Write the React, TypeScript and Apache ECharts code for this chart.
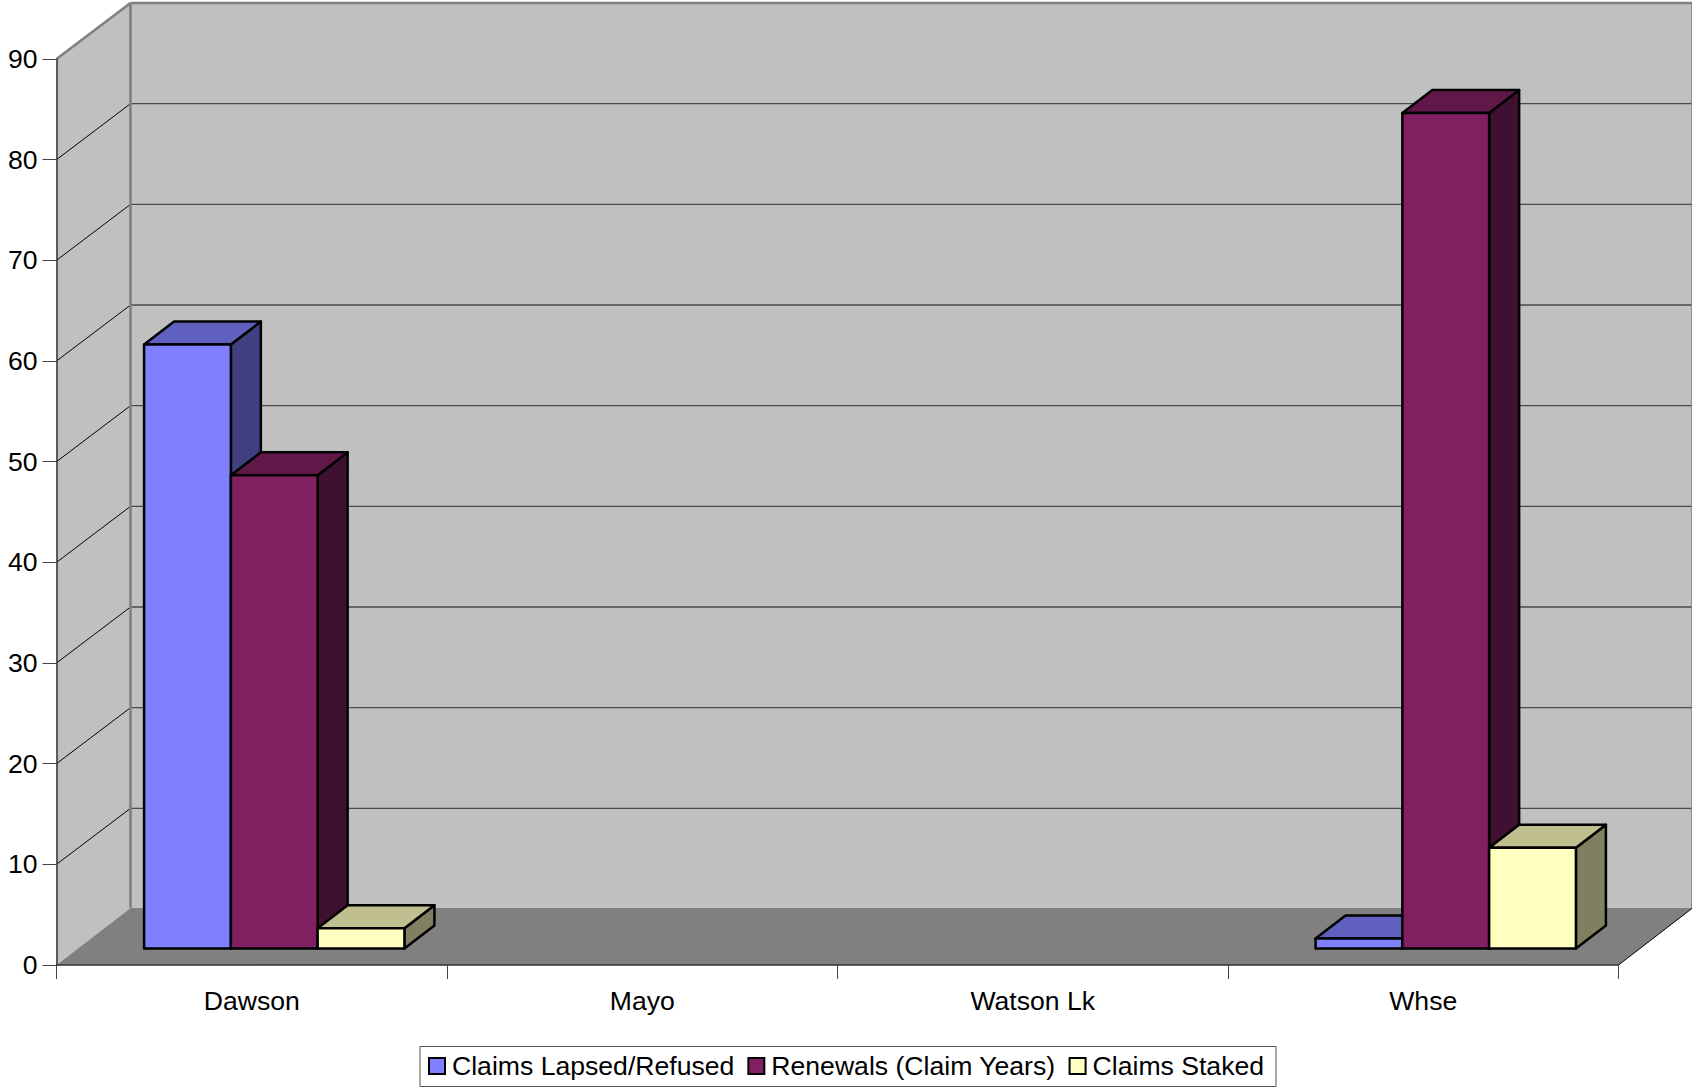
import React, { useEffect, useRef } from "react";
import * as echarts from "echarts";

const categories = ["Dawson", "Mayo", "Watson Lk", "Whse"];
const yTicks = [10, 20, 30, 40, 50, 60, 70, 80];
const lapsed = [60, null, null, 1];
const renewals = [47, null, null, 83];
const staked = [2, null, null, 10];

const seriesNames = ["Claims Lapsed/Refused", "Renewals (Claim Years)", "Claims Staked"];
const frontColors = ["#8080ff", "#802060", "#ffffc0"];
const topColors = ["#6060bf", "#601848", "#bfbf90"];
const sideColors = ["#404080", "#401030", "#808060"];

const DEPTH_X = 74;
const DEPTH_Y = 56;
const FLOOR_DY = 57;
const GAP_X = 22.5;
const GAP_Y = 16.5;
const BAR_DX = 30;
const BAR_DY = 23;

const FONT = '"Liberation Sans", Arial, sans-serif';

function poly(points: number[][], fill: string, stroke?: string, lineWidth = 2.5) {
  return {
    type: "polygon",
    shape: { points },
    style: { fill, stroke: stroke || "none", lineWidth, lineJoin: "round" },
  };
}

function line(x1: number, y1: number, x2: number, y2: number, stroke: string, lineWidth: number) {
  return {
    type: "line",
    shape: { x1, y1, x2, y2 },
    style: { stroke, lineWidth, fill: "none" },
  };
}

function renderWalls(params: any, api: any) {
  const cs = params.coordSys;
  const l = cs.x;
  const r = cs.x + cs.width;
  const t = cs.y;
  const b = cs.y + cs.height;
  const children: any[] = [
    poly([[l, t], [l + DEPTH_X, t - DEPTH_Y], [l + DEPTH_X, b - FLOOR_DY], [l, b]], "#c0c0c0"),
    poly([[l + DEPTH_X, t - DEPTH_Y], [r + DEPTH_X, t - DEPTH_Y], [r + DEPTH_X, b - FLOOR_DY], [l + DEPTH_X, b - FLOOR_DY]], "#c0c0c0"),
    poly([[l, b], [r, b], [r + DEPTH_X, b - FLOOR_DY], [l + DEPTH_X, b - FLOOR_DY]], "#808080"),
  ];
  for (const tick of yTicks) {
    const y = api.coord([0, tick])[1];
    children.push(line(l, y, l + DEPTH_X, y - DEPTH_Y, "#000000", 1));
    children.push(line(l + DEPTH_X, y - DEPTH_Y, r + DEPTH_X, y - DEPTH_Y, "#4a4a4a", 1.4));
  }
  children.push(line(l, t, l + DEPTH_X, t - DEPTH_Y, "#808080", 2.6));
  children.push(line(l + DEPTH_X, t - DEPTH_Y, r + DEPTH_X, t - DEPTH_Y, "#808080", 2.6));
  children.push(line(l + DEPTH_X, t - DEPTH_Y, l + DEPTH_X, b - FLOOR_DY, "#808080", 2.6));
  children.push(line(r + DEPTH_X, t - DEPTH_Y, r + DEPTH_X, b - FLOOR_DY, "#808080", 2.6));
  children.push(line(r, b, r + DEPTH_X, b - FLOOR_DY, "#000000", 1));
  return { type: "group", children };
}

function makeBarRenderer(idx: number) {
  return (params: any, api: any) => {
    const value = api.value(1);
    if (value == null || isNaN(value)) return null;
    const cat = api.value(0);
    const base = api.coord([cat, 0]);
    const top = api.coord([cat, value]);
    const band = api.size([1, 0])[0];
    const w = band / 4.5;
    const x0 = base[0] - 1.5 * w + idx * w + GAP_X;
    const x1 = x0 + w;
    const yb = base[1] - GAP_Y;
    const yt = top[1] - GAP_Y;
    return {
      type: "group",
      children: [
        poly([[x1, yt], [x1 + BAR_DX, yt - BAR_DY], [x1 + BAR_DX, yb - BAR_DY], [x1, yb]], sideColors[idx], "#000000"),
        poly([[x0, yt], [x0 + BAR_DX, yt - BAR_DY], [x1 + BAR_DX, yt - BAR_DY], [x1, yt]], topColors[idx], "#000000"),
        poly([[x0, yt], [x1, yt], [x1, yb], [x0, yb]], frontColors[idx], "#000000"),
      ],
    };
  };
}

function toData(values: (number | null)[]) {
  return values.map((v, i) => [i, v]);
}

export default function App() {
  const ref = useRef<HTMLDivElement>(null);
  useEffect(() => {
    const chart = echarts.init(ref.current!, undefined, { renderer: "svg" });
    const barValues = [lapsed, renewals, staked];
    chart.setOption({
      animation: false,
      backgroundColor: "#ffffff",
      textStyle: { fontFamily: FONT },
      grid: { left: 56.5, top: 59, width: 1562, height: 906, containLabel: false },
      xAxis: {
        type: "category",
        data: categories,
        z: 5,
        axisLine: { show: true, lineStyle: { color: "#333333", width: 1.5 } },
        axisTick: { show: true, length: 14, alignWithLabel: false, lineStyle: { color: "#444444", width: 1 } },
        axisLabel: { color: "#000000", fontSize: 26.6, fontFamily: FONT, margin: 22, interval: 0 },
        splitLine: { show: false },
      },
      yAxis: {
        type: "value",
        min: 0,
        max: 90,
        interval: 10,
        z: 5,
        axisLine: { show: true, lineStyle: { color: "#333333", width: 1.5 } },
        axisTick: { show: true, length: 14, lineStyle: { color: "#444444", width: 1 } },
        axisLabel: { color: "#000000", fontSize: 26.6, fontFamily: FONT, margin: 19 },
        splitLine: { show: false },
      },
      legend: {
        data: seriesNames,
        left: 420,
        top: 1046.5,
        padding: [6, 12, 7, 8],
        icon: "rect",
        itemWidth: 16,
        itemHeight: 16,
        itemGap: 13,
        backgroundColor: "#ffffff",
        borderColor: "#555555",
        borderWidth: 1,
        itemStyle: { borderColor: "#000000", borderWidth: 2 },
        textStyle: { color: "#000000", fontSize: 26.6, fontFamily: FONT, padding: [0, 0, 0, 2] },
        selectedMode: false,
      },
      series: [
        {
          type: "custom",
          name: "walls",
          z: 1,
          silent: true,
          clip: false,
          renderItem: renderWalls,
          data: [[0, 0]],
        },
        ...seriesNames.map((name, idx) => ({
          type: "custom",
          name,
          z: 2,
          clip: false,
          itemStyle: { color: frontColors[idx] },
          encode: { x: 0, y: 1 },
          renderItem: makeBarRenderer(idx),
          data: toData(barValues[idx]),
        })),
      ],
    });
    return () => chart.dispose();
  }, []);
  return <div ref={ref} style={{ position: "fixed", left: 0, top: 0, width: 1692, height: 1088 }} />;
}
